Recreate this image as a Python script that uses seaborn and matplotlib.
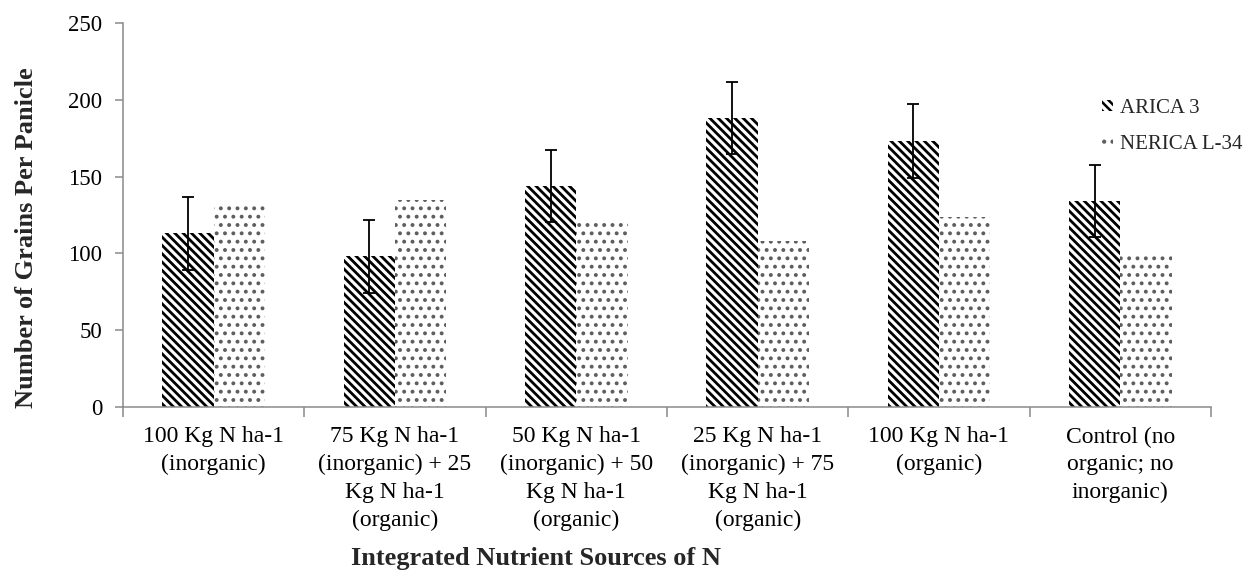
import matplotlib
matplotlib.use("Agg")
import matplotlib.pyplot as plt
import seaborn as sns
import pandas as pd

categories = [
    "100 Kg N ha-1\n(inorganic)",
    "75 Kg N ha-1\n(inorganic) + 25\nKg N ha-1\n(organic)",
    "50 Kg N ha-1\n(inorganic) + 50\nKg N ha-1\n(organic)",
    "25 Kg N ha-1\n(inorganic) + 75\nKg N ha-1\n(organic)",
    "100 Kg N ha-1\n(organic)",
    "Control (no\norganic; no\ninorganic)",
]
series_names = ["ARICA 3", "NERICA L-34"]
arica = [113, 98, 144, 188, 173, 134]
nerica = [131, 135, 121, 108, 124, 100]
arica_err = [23.5, 23.5, 23.5, 23.5, 24, 23.5]
y_ticks = [0, 50, 100, 150, 200, 250]

df = pd.DataFrame({
    "treatment": categories * 2,
    "variety": [series_names[0]] * len(categories) + [series_names[1]] * len(categories),
    "value": arica + nerica,
})

sns.set_style("white")
plt.rcParams["font.family"] = ["Liberation Serif", "DejaVu Serif"]
plt.rcParams["hatch.linewidth"] = 1.8

fig = plt.figure(figsize=(12.46, 5.72), dpi=100)
ax = fig.add_axes([123 / 1246, 1 - 407 / 572, (1211 - 123) / 1246, (407 - 23) / 572])

sns.barplot(data=df, x="treatment", y="value", hue="variety",
            order=categories, hue_order=series_names,
            palette=["white", "white"], width=0.567, errorbar=None,
            ax=ax, legend=False, saturation=1)

styles = [("\\\\\\\\", "black", 2.0), ("..", "#5e5e5e", 1.6)]
for cont, (hatch, col, hlw) in zip(ax.containers, styles):
    for bar in cont:
        bar.set_hatch(hatch)
        bar.set_edgecolor(col)
        bar.set_facecolor("white")
        bar.set_linewidth(0)
        if hasattr(bar, "set_hatch_linewidth"):
            bar.set_hatch_linewidth(hlw)

# error bars on ARICA bars
xs = [b.get_x() + b.get_width() / 2 for b in ax.containers[0]]
hs = [b.get_height() for b in ax.containers[0]]
ax.errorbar(xs, hs, yerr=arica_err, fmt="none", ecolor="black",
            elinewidth=1.3, capsize=4, capthick=1.3)

ax.set_ylim(0, 250)
ax.set_yticks(y_ticks)
ax.set_xlim(-0.5, len(categories) - 0.5)

for s in ["top", "right"]:
    ax.spines[s].set_visible(False)
for s in ["left", "bottom"]:
    ax.spines[s].set_color("#8a8a8a")
    ax.spines[s].set_linewidth(1.1)

ax.tick_params(axis="y", direction="out", length=6, width=1.1, color="#8a8a8a",
               labelsize=16.5, pad=9, left=True, labelcolor="black")
ax.tick_params(axis="x", which="major", length=0, labelsize=17, pad=14, labelcolor="black")
ax.set_xticks([i - 0.5 for i in range(len(categories) + 1)], minor=True)
ax.tick_params(axis="x", which="minor", direction="out", length=7, width=1.1,
               color="#8a8a8a", bottom=True)
for lab in ax.get_xticklabels():
    lab.set_linespacing(1.41)

ax.set_xlabel("Integrated Nutrient Sources of N", fontsize=19, fontweight="bold")
ax.set_ylabel("Number of Grains Per Panicle", fontsize=19, fontweight="bold")
ax.xaxis.set_label_coords((536 - 123) / 1088, (407 - 547) / 384)
ax.yaxis.set_label_coords((38 - 123) / 1088, (407 - 238) / 384)

handles = [ax.containers[0][0], ax.containers[1][0]]
leg = ax.legend(handles, series_names, loc="upper left",
                bbox_to_anchor=(1102 / 1246, 1 - 99 / 572),
                bbox_transform=fig.transFigure, frameon=False,
                fontsize=15, handlelength=0.55, handleheight=0.45,
                handletextpad=0.3, labelspacing=0.8, borderpad=0,
                borderaxespad=0)

fig.savefig("out.png", dpi=100)
